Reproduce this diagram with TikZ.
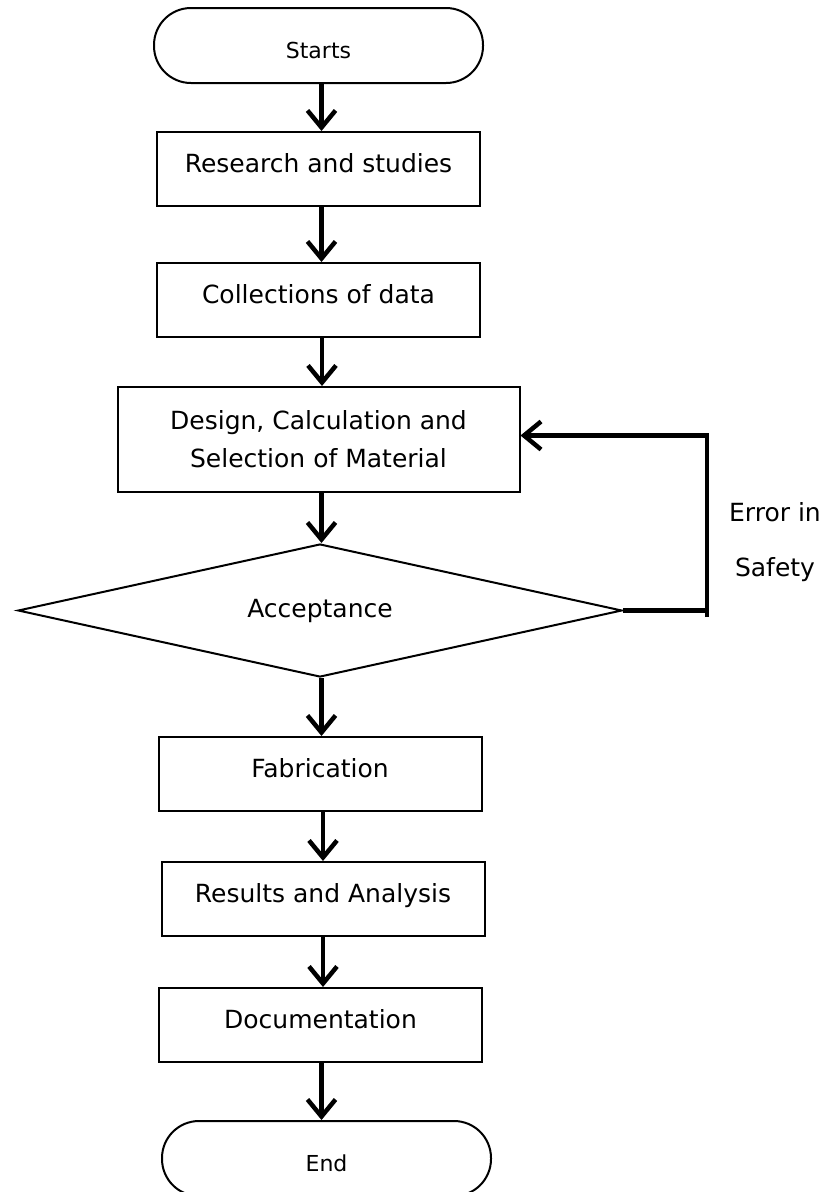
\documentclass[tikz,border=0pt]{standalone}
\usepackage{fontspec}
\setmainfont{DejaVu Sans}
\usepackage{tikz}
\usetikzlibrary{arrows.meta,positioning,calc,shapes.geometric}
\tikzset{
  every node/.append style={font=\fontsize{25}{30}\selectfont},
}
\tikzset{
  stepbox/.style={draw, line width=2pt, minimum width=323pt, minimum height=74pt, inner sep=0pt,
    text height=19pt, text depth=13pt},
  term/.style={draw, line width=2pt, rounded corners=37pt, minimum width=329pt, minimum height=75pt,
    inner sep=0pt, text height=26pt, text depth=0pt, font=\fontsize{22}{26}\selectfont},
  arrow/.style={-{Straight Barb[length=17pt,width=28pt]}, line width=4.5pt}
}

\begin{document}
\begin{tikzpicture}[
  x=1pt, y=1pt,
  decide/.style={diamond, aspect=4.5, draw, line width=2pt, minimum width=604pt, minimum height=133pt, inner sep=0pt},
  bigbox/.style={draw, line width=2pt, minimum width=402pt, minimum height=105pt, inner sep=0pt,
    align=center, font=\fontsize{25}{38}\selectfont},
  note/.style={align=center, font=\fontsize{25}{55}\selectfont}
]
\useasboundingbox (0,0) rectangle (830,-1192);

% --- Main chain ---
\node[term] (start) at (318.5,-45.5) {Starts};
\node[stepbox, below=47pt of start] (research) {Research and studies};
\node[stepbox, below=55pt of research] (collect) {Collections of data};
\node[bigbox, below=48pt of collect] (design) {Design, Calculation and\\Selection of Material};
\node[decide, below=50pt of design, xshift=1.5pt] (accept) {Acceptance};
\node[stepbox, below=58pt of accept] (fab) {Fabrication};
\node[stepbox, below=49pt of fab, xshift=3pt] (results) {Results and Analysis};
\node[stepbox, below=50pt of results, xshift=-2.5pt] (doc) {Documentation};
\node[term, below=57pt of doc, xshift=6pt] (stop) {End};

% --- Arrows down the chain ---
\draw[arrow] ([xshift=3pt]start.south) -- ([xshift=3pt]research.north);
\draw[arrow] ([xshift=3pt]research.south) -- ([xshift=3pt]collect.north);
\draw[arrow] ([xshift=3.5pt]collect.south) -- ([xshift=3.5pt]collect.south |- design.north);
\draw[arrow] ([xshift=3pt]design.south) -- ([xshift=3pt]design.south |- accept.north);
\draw[arrow] ([xshift=1.5pt]accept.south) -- ([xshift=1.5pt]accept.south |- fab.north);
\draw[arrow] ([xshift=3pt]fab.south) -- ([xshift=3pt]fab.south |- results.north);
\draw[arrow] (results.south) -- (results.south |- doc.north);
\draw[arrow] ([xshift=1pt]doc.south) -- ([xshift=1pt]doc.south |- stop.north);

% --- Feedback loop ---
\coordinate (turn) at (707,-617);
\draw[line width=4.5pt] (accept.east) -- (accept.east -| turn);
\draw[arrow] (turn) |- ([yshift=4pt]design.east);
\node[note] (err) at (775,-542) {Error in\\Safety};

\end{tikzpicture}
\end{document}
